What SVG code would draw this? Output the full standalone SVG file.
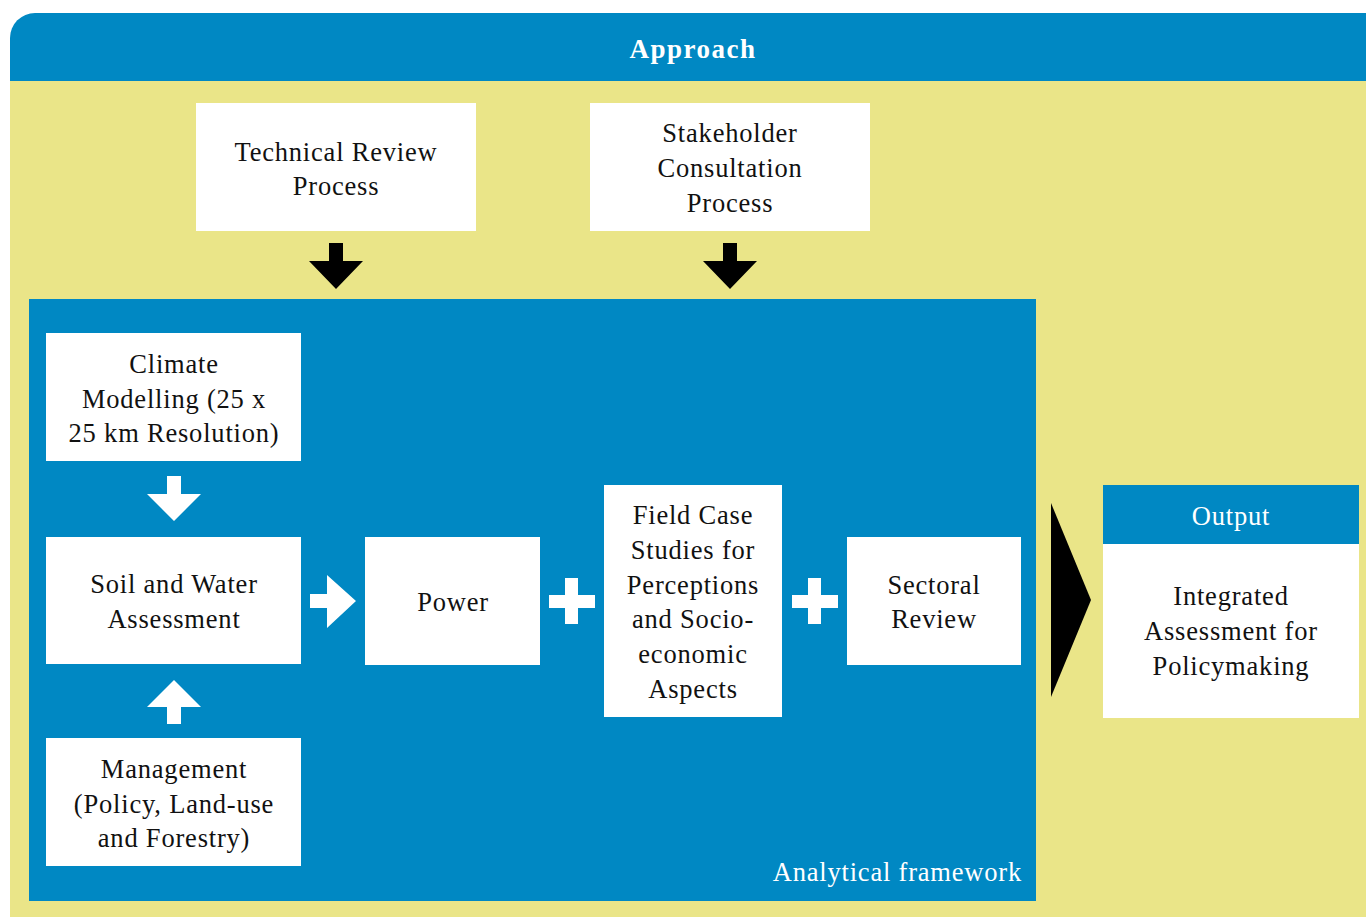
<svg xmlns="http://www.w3.org/2000/svg" width="1366" height="917" viewBox="0 0 1366 917">
<style>
.box{fill:#fff}
.blue{fill:#0088C3}
.t{font-family:"Liberation Serif",serif;font-size:26.5px;letter-spacing:0.8px;fill:#111;text-anchor:middle}
.w{fill:#fff}
</style>
<rect width="1366" height="917" fill="#fff"/>
<g id="approach">
<path class="blue" d="M10,81 V38 A25,25 0 0 1 35,13 H1366 V81 Z"/>
<rect x="10" y="81" width="1356" height="836" fill="#EAE588"/>
<text class="t w" x="693" y="58" style="font-weight:bold;font-size:27px;letter-spacing:1.5px">Approach</text>
</g>
<g id="technical-review">
<rect class="box" x="196" y="103" width="280" height="128"/>
<text class="t" x="336" y="161">Technical Review</text>
<text class="t" x="336" y="195">Process</text>
</g>
<g id="stakeholder">
<rect class="box" x="590" y="103" width="280" height="128"/>
<text class="t" x="730" y="142">Stakeholder</text>
<text class="t" x="730" y="177">Consultation</text>
<text class="t" x="730" y="212">Process</text>
</g>
<g id="analytical-framework">
<rect class="blue" x="29" y="299" width="1007" height="602"/>
<text class="t w" x="1022" y="881" style="text-anchor:end">Analytical framework</text>
</g>
<g id="climate">
<rect class="box" x="46" y="333" width="255" height="128"/>
<text class="t" x="174" y="373">Climate</text>
<text class="t" x="174" y="408">Modelling (25 x</text>
<text class="t" x="174" y="442">25 km Resolution)</text>
</g>
<g id="soil">
<rect class="box" x="46" y="537" width="255" height="127"/>
<text class="t" x="174" y="593">Soil and Water</text>
<text class="t" x="174" y="628">Assessment</text>
</g>
<g id="management">
<rect class="box" x="46" y="738" width="255" height="128"/>
<text class="t" x="174" y="778">Management</text>
<text class="t" x="174" y="813">(Policy, Land-use</text>
<text class="t" x="174" y="847">and Forestry)</text>
</g>
<g id="power">
<rect class="box" x="365" y="537" width="175" height="128"/>
<text class="t" x="453" y="611">Power</text>
</g>
<g id="field-case">
<rect class="box" x="604" y="485" width="178" height="232"/>
<text class="t" x="693" y="524">Field Case</text>
<text class="t" x="693" y="559">Studies for</text>
<text class="t" x="693" y="594">Perceptions</text>
<text class="t" x="693" y="628">and Socio-</text>
<text class="t" x="693" y="663">economic</text>
<text class="t" x="693" y="698">Aspects</text>
</g>
<g id="sectoral">
<rect class="box" x="847" y="537" width="174" height="128"/>
<text class="t" x="934" y="594">Sectoral</text>
<text class="t" x="934" y="628">Review</text>
</g>
<g id="output">
<rect class="blue" x="1103" y="485" width="256" height="59"/>
<rect class="box" x="1103" y="544" width="256" height="174"/>
<text class="t w" x="1231" y="525">Output</text>
<text class="t" x="1231" y="605">Integrated</text>
<text class="t" x="1231" y="640">Assessment for</text>
<text class="t" x="1231" y="675">Policymaking</text>
</g>
<g id="connectors">
<polygon fill="#000" points="329,243 343,243 343,261 363,261 336,289 309,261 329,261"/>
<polygon fill="#000" points="723,243 737,243 737,261 757,261 730,289 703,261 723,261"/>
<polygon fill="#fff" points="167,476 181,476 181,494 201,494 174,521 147,494 167,494"/>
<polygon fill="#fff" points="174,680 201,707 181,707 181,724 167,724 167,707 147,707"/>
<polygon fill="#fff" points="310,594 327,594 327,575 356,601 327,628 327,608 310,608"/>
<polygon fill="#fff" points="565,578 578,578 578,595 595,595 595,608 578,608 578,624 565,624 565,608 549,608 549,595 565,595"/>
<polygon fill="#fff" points="808,578 821,578 821,595 838,595 838,608 821,608 821,624 808,624 808,608 792,608 792,595 808,595"/>
<polygon fill="#000" points="1051,503 1091,600 1051,697"/>
</g>
</svg>
